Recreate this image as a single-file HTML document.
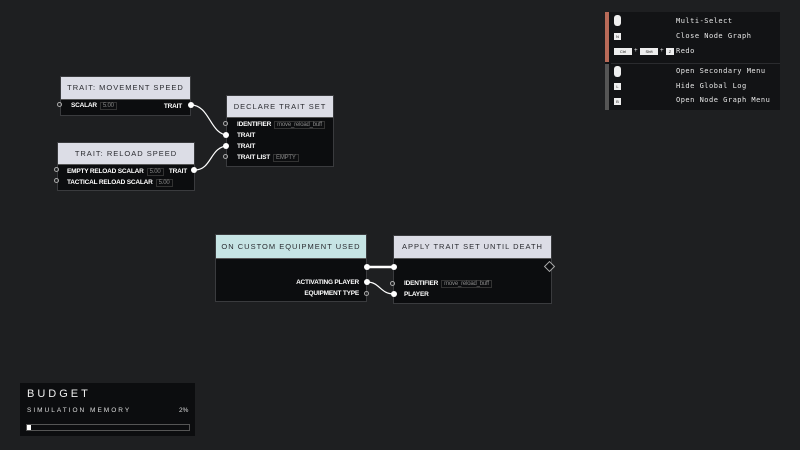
<!DOCTYPE html>
<html><head><style>
body{margin:0;width:800px;height:450px;background:#1e1f21;position:relative;overflow:hidden;font-family:"Liberation Sans",sans-serif;}
.n{position:absolute;background:#0c0d0f;border:1px solid #3a3b3e;box-sizing:border-box;}
.h{position:absolute;left:0;right:0;top:0;background:#dcdde6;color:#2a2b30;font-size:7.5px;letter-spacing:1px;text-align:center;border-bottom:1px solid #555;white-space:nowrap;overflow:hidden;}
.r{position:absolute;color:#fff;font-size:6.5px;font-weight:bold;white-space:nowrap;letter-spacing:-0.2px;}
.v{display:inline-block;border:1px solid #333;color:#888;font-weight:normal;padding:0 2px;margin-left:3px;font-size:6px;}
.p{position:absolute;width:5px;height:5px;border-radius:50%;border:1px solid #aaa;box-sizing:border-box;}
.f{position:absolute;width:6px;height:6px;border-radius:50%;background:#fff;}
.t{position:absolute;color:#e8e8e8;font-family:"DejaVu Sans Mono","Liberation Mono",monospace;font-size:7px;letter-spacing:0.5px;}
.k{position:absolute;background:#eee;color:#222;font-size:4px;text-align:center;line-height:7px;height:7px;}
</style></head><body>
<svg width="800" height="450" style="position:absolute;left:0;top:0">
<path d="M191 105 C210 105,210 135,228 135" stroke="#fff" stroke-width="1.2" fill="none"/>
<path d="M195 170 C212 170,210 146,228 146" stroke="#fff" stroke-width="1.2" fill="none"/>
<path d="M367 267 L394 267" stroke="#fff" stroke-width="2.5"/>
<path d="M367 282 C380 282,380 294,394 294" stroke="#fff" stroke-width="1.2" fill="none"/>
</svg>

<div class="n" style="left:60px;top:76px;width:131px;height:40px">
<div class="h" style="height:22px;line-height:22px">TRAIT: MOVEMENT SPEED</div>
<div class="r" style="left:10px;top:25px">SCALAR<span class="v">5.00</span></div>
<div class="r" style="right:8px;top:26px">TRAIT</div></div>
<div class="p" style="left:57px;top:102px"></div><div class="f" style="left:188px;top:102px"></div>

<div class="n" style="left:57px;top:142px;width:138px;height:49px">
<div class="h" style="height:21px;line-height:21px">TRAIT: RELOAD SPEED</div>
<div class="r" style="left:9px;top:25px">EMPTY RELOAD SCALAR<span class="v">5.00</span></div>
<div class="r" style="left:9px;top:36px">TACTICAL RELOAD SCALAR<span class="v">5.00</span></div>
<div class="r" style="right:7px;top:25px">TRAIT</div></div>
<div class="p" style="left:54px;top:167px"></div><div class="p" style="left:54px;top:178px"></div><div class="f" style="left:191px;top:167px"></div>

<div class="n" style="left:226px;top:95px;width:108px;height:72px">
<div class="h" style="height:21px;line-height:21px">DECLARE TRAIT SET</div>
<div class="r" style="left:10px;top:25px">IDENTIFIER<span class="v">move_reload_buff</span></div>
<div class="r" style="left:10px;top:36px">TRAIT</div>
<div class="r" style="left:10px;top:47px">TRAIT</div>
<div class="r" style="left:10px;top:58px">TRAIT LIST<span class="v">EMPTY</span></div></div>
<div class="p" style="left:223px;top:121px"></div><div class="f" style="left:223px;top:132px"></div><div class="f" style="left:223px;top:143px"></div><div class="p" style="left:223px;top:154px"></div>

<div class="n" style="left:215px;top:234px;width:152px;height:68px">
<div class="h" style="height:23px;line-height:23px;background:#c6e4e4">ON CUSTOM EQUIPMENT USED</div>
<div class="r" style="right:7px;top:44px">ACTIVATING PLAYER</div>
<div class="r" style="right:7px;top:55px">EQUIPMENT TYPE</div></div>
<div class="f" style="left:364px;top:264px"></div><div class="f" style="left:364px;top:279px"></div><div class="p" style="left:364px;top:291px"></div>

<div class="n" style="left:393px;top:235px;width:159px;height:69px">
<div class="h" style="height:22px;line-height:22px">APPLY TRAIT SET UNTIL DEATH</div>
<div class="r" style="left:10px;top:44px">IDENTIFIER<span class="v">move_reload_buff</span></div>
<div class="r" style="left:10px;top:55px">PLAYER</div></div>
<div class="f" style="left:391px;top:264px"></div><div class="p" style="left:390px;top:281px"></div><div class="f" style="left:391px;top:291px"></div>
<svg width="800" height="450" style="position:absolute;left:0;top:0"><rect x="546" y="263" width="7" height="7" transform="rotate(45 549.5 266.5)" fill="#0c0d0f" stroke="#aaa"/></svg>

<div style="position:absolute;left:605px;top:12px;width:175px;height:98px;background:#121315"></div>
<div style="position:absolute;left:605px;top:12px;width:4px;height:50px;background:#b86a58"></div>
<div style="position:absolute;left:605px;top:64px;width:4px;height:46px;background:#555"></div>
<div style="position:absolute;left:611px;top:63px;width:169px;height:1px;background:#2a2b2e"></div>
<div class="k" style="left:614px;top:15px;width:7px;height:11px;border-radius:3px"></div><div class="t" style="left:676px;top:17px">Multi-Select</div>
<div class="k" style="left:614px;top:33px;width:7px">N</div><div class="t" style="left:676px;top:32px">Close Node Graph</div>
<div class="k" style="left:614px;top:48px;width:18px">Ctrl</div><div class="t" style="left:634px;top:47px;font-size:6px">+</div>
<div class="k" style="left:640px;top:48px;width:18px">Shft</div><div class="t" style="left:660px;top:47px;font-size:6px">+</div>
<div class="k" style="left:666px;top:48px;width:8px">Z</div><div class="t" style="left:676px;top:47px">Redo</div>
<div class="k" style="left:614px;top:66px;width:7px;height:11px;border-radius:3px"></div><div class="t" style="left:676px;top:67px">Open Secondary Menu</div>
<div class="k" style="left:614px;top:83px;width:7px">L</div><div class="t" style="left:676px;top:82px">Hide Global Log</div>
<div class="k" style="left:614px;top:98px;width:7px">B</div><div class="t" style="left:676px;top:96px">Open Node Graph Menu</div>

<div style="position:absolute;left:20px;top:383px;width:175px;height:53px;background:#0c0d0f"></div>
<div style="position:absolute;left:27px;top:388px;color:#eee;font-size:11px;letter-spacing:3px">BUDGET</div>
<div style="position:absolute;left:27px;top:407px;color:#ddd;font-size:6.5px;letter-spacing:2px">SIMULATION MEMORY</div>
<div style="position:absolute;left:179px;top:407px;color:#ddd;font-size:6.5px">2%</div>
<div style="position:absolute;left:26px;top:424px;width:162px;height:5px;border:1px solid #555"></div>
<div style="position:absolute;left:27px;top:425px;width:4px;height:5px;background:#fff"></div>
</body></html>
